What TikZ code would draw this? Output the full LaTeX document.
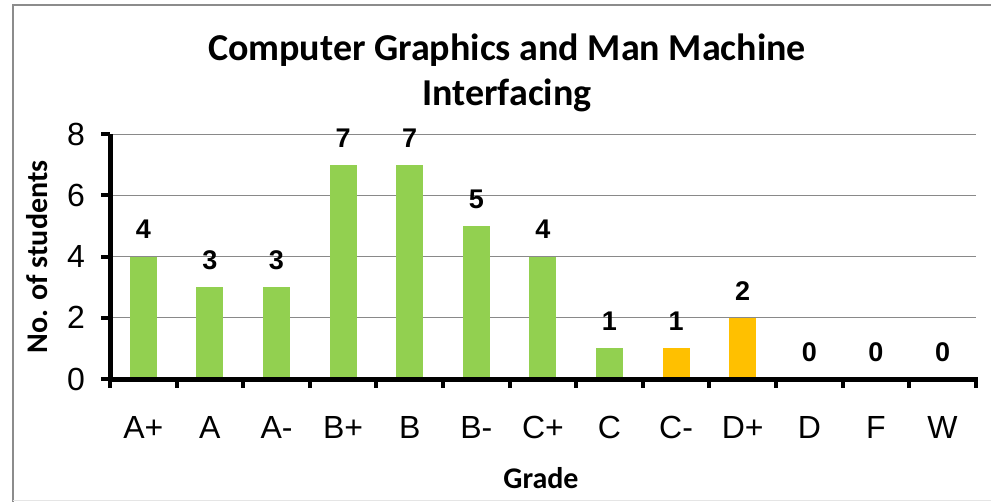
\documentclass[tikz,border=0pt]{standalone}
\usepackage{fontspec}
\setmainfont{Liberation Sans}
\newfontfamily\titlefont{Carlito}
\definecolor{barg}{HTML}{92D050}
\definecolor{baro}{HTML}{FFC000}
\definecolor{framec}{HTML}{8C8C8C}
\definecolor{gridc}{HTML}{898989}
\tikzset{
  ticklab/.style={font=\fontsize{32}{36}\selectfont, inner sep=0pt},
  vallab/.style={font=\fontsize{27}{30}\selectfont\bfseries, inner sep=0pt},
  axtitle/.style={font=\fontsize{30}{34}\selectfont\titlefont\bfseries, inner sep=0pt},
  gridline/.style={gridc, line width=1.3pt},
  axisline/.style={black, line width=5pt},
  tickmark/.style={black, line width=4pt}
}
\begin{document}
\begin{tikzpicture}[x=1pt,y=-1pt]
\useasboundingbox (0,0) rectangle (991,501);
% frame
\draw[framec, line width=2pt] (12.5,520) -- (12.5,4.5) -- (1010,4.5);
\draw[black!10, line width=1pt] (12.5,500.5) -- (1000,500.5);
% title
\node[font=\fontsize{38}{45}\selectfont\titlefont\bfseries, align=center, inner sep=0pt] (title) at (507,73) {Computer Graphics and Man Machine\\Interfacing};
% grid
\foreach \v in {2,4,6,8}
  \draw[gridline] (110,{379-30.6*\v}) -- (976,{379-30.6*\v});
% bars and value labels
\foreach \i/\v/\c in {1/4/barg,2/3/barg,3/3/barg,4/7/barg,5/7/barg,6/5/barg,7/4/barg,8/1/barg,9/1/baro,10/2/baro,11/0/barg,12/0/barg,13/0/barg}{
  \ifnum\v>0
    \fill[\c] ({110+66.6*(\i-0.5)-13.5},379) rectangle ++(27,{-30.6*\v});
  \fi
  \node[vallab] (val\i) at ({110+66.6*(\i-0.5)},{379-30.6*\v-27}) {\v};
}
% axes
\draw[axisline] (110,134) -- (110,379) -- (978,379);
\foreach \v in {0,2,4,6,8}{
  \draw[tickmark] (101,{379-30.6*\v}) -- (110,{379-30.6*\v});
  \node[ticklab, anchor=east] (ylab\v) at (85,{379-30.6*\v}) {\v};
}
\foreach \k in {0,...,13}
  \draw[tickmark] ({110+66.6*\k},379) -- ++(0,9);
\foreach \i/\g in {1/A+,2/A,3/A-,4/B+,5/B,6/B-,7/C+,8/C,9/C-,10/D+,11/D,12/F,13/W}
  \node[ticklab] (xlab\i) at ({110+66.6*(\i-0.5)},427.5) {\g};
% axis titles
\node[axtitle] (xtitle) at (541,478) {Grade};
\node[axtitle, rotate=90] (ytitle) at (37,257) {No. of students};
\end{tikzpicture}
\end{document}
